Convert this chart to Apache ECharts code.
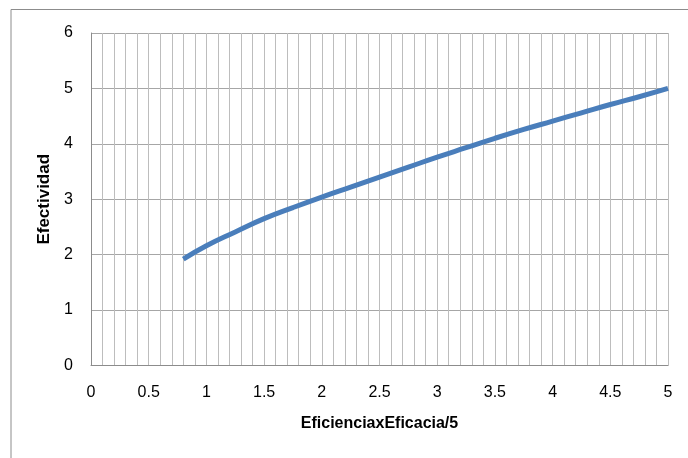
<!DOCTYPE html>
<html>
<head>
<meta charset="utf-8">
<script src="https://cdn.jsdelivr.net/npm/echarts@6/dist/echarts.min.js"></script>
<style>html,body{margin:0;padding:0;background:#fff}#c{width:688px;height:458px}</style>
</head>
<body>
<div id="c"></div>
<script>
const xValues = [0.8, 1.0, 1.25, 1.5, 1.75, 2.0, 2.25, 2.5, 2.75, 3.0, 3.25, 3.5, 3.75, 4.0, 4.25, 4.5, 4.75, 5.0];
const yValues = [1.92, 2.16, 2.41, 2.65, 2.85, 3.04, 3.22, 3.40, 3.58, 3.76, 3.93, 4.10, 4.26, 4.41, 4.56, 4.71, 4.85, 5.0];
const xTitle = 'EficienciaxEficacia/5';
const yTitle = 'Efectividad';

const chart = echarts.init(document.getElementById('c'));
const fontFam = 'Liberation Sans, Arial, sans-serif';
chart.setOption({
  animation: false,
  graphic: [{
    type: 'rect', shape: {x: 11, y: 9.5, width: 700, height: 470},
    style: {fill: 'none', stroke: '#8c8c8c', lineWidth: 1}, silent: true
  }],
  grid: {left: 91, right: 20, top: 33, bottom: 92.5},
  xAxis: {
    type: 'value', min: 0, max: 5, interval: 0.5,
    name: xTitle, nameLocation: 'middle', nameGap: 50,
    nameTextStyle: {fontFamily: fontFam, fontWeight: 'bold', fontSize: 16, color: '#000'},
    axisLine: {show: true, lineStyle: {color: '#8c8c8c', width: 1}},
    axisTick: {show: false},
    axisLabel: {fontFamily: fontFam, fontSize: 16, color: '#000', margin: 19},
    splitLine: {show: true, lineStyle: {color: '#bdbdbd', width: 1}},
    minorTick: {show: false, splitNumber: 5},
    minorSplitLine: {show: true, lineStyle: {color: '#bdbdbd', width: 1}}
  },
  yAxis: {
    type: 'value', min: 0, max: 6, interval: 1,
    name: yTitle, nameLocation: 'middle', nameGap: 36,
    nameTextStyle: {fontFamily: fontFam, fontWeight: 'bold', fontSize: 17, color: '#000'},
    axisLine: {show: true, lineStyle: {color: '#8c8c8c', width: 1}},
    axisTick: {show: false},
    axisLabel: {fontFamily: fontFam, fontSize: 16, color: '#000', margin: 18},
    splitLine: {show: true, lineStyle: {color: '#a6a6a6', width: 1}}
  },
  series: [{
    type: 'line',
    data: xValues.map((x, i) => [x, yValues[i]]),
    smooth: true,
    showSymbol: false,
    lineStyle: {color: '#4a7ebb', width: 5, cap: 'butt'}
  }]
});
</script>
</body>
</html>
